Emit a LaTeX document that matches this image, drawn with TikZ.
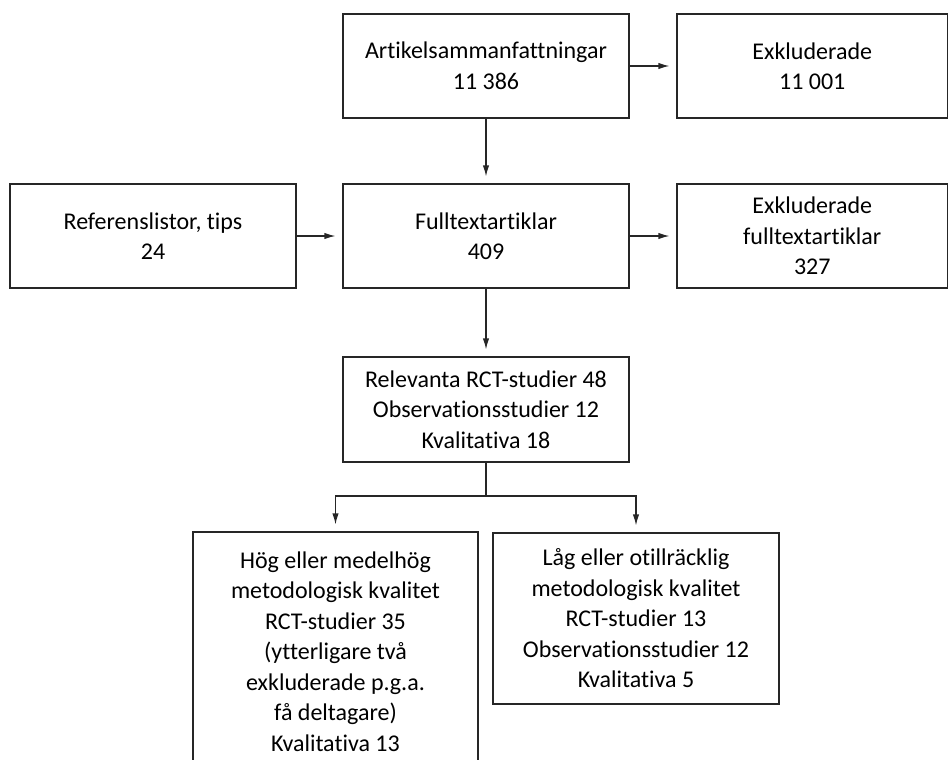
\documentclass[tikz,border=0pt]{standalone}
\usepackage{fontspec}
\setmainfont{Carlito}[Ligatures={NoCommon}]
\usetikzlibrary{arrows.meta}
\tikzset{
  box/.style={draw=black!85, line width=0.6pt, align=center, inner sep=0pt,
    minimum width=143pt, minimum height=52pt,
    font=\fontsize{12}{15.25}\selectfont},
  arr/.style={draw=black!85, line width=0.6pt,
    -{Latex[length=5.5pt,width=3.2pt]}, shorten >=3.5pt},
}
\begin{document}
\begin{tikzpicture}[x=0.5pt, y=-0.5pt]
  \useasboundingbox (0,0) rectangle (949,760);

  % first row
  \node[box] (sam) at (486,66) {Artikelsammanfattningar\\11 386};
  \node[box, minimum width=135.25pt] (exk) at (812.25,66) {Exkluderade\\11 001};

  % second row
  \node[box] (ref) at (153,236) {Referenslistor, tips\\24};
  \node[box] (full) at (486,236) {Fulltextartiklar\\409};
  \node[box, minimum width=135.25pt] (exkfull) at (812.25,236) {Exkluderade\\fulltextartiklar\\327};

  % relevant studies
  \node[box, minimum height=52.5pt] (rel) at (486,409.5)
    {Relevanta RCT-studier 48\\Observationsstudier 12\\Kvalitativa 18};

  % quality split
  \node[box, minimum width=142.5pt, minimum height=119.5pt] (hog) at (335.5,651.5)
    {Hög eller medelhög\\metodologisk kvalitet\\RCT-studier 35\\(ytterligare två\\exkluderade p.g.a.\\få deltagare)\\Kvalitativa 13};
  \node[box, minimum height=85.5pt] (lag) at (636,618.5)
    {Låg eller otillräcklig\\metodologisk kvalitet\\RCT-studier 13\\Observationsstudier 12\\Kvalitativa 5};

  % arrows
  \draw[arr] (sam) -- (exk);
  \draw[arr] (sam) -- (full);
  \draw[arr] (ref) -- (full);
  \draw[arr] (full) -- (exkfull);
  \draw[arr] (full) -- (rel);
  \coordinate (split) at (486,496);
  \draw[draw=black!85, line width=0.6pt] (rel.south) -- (split);
  \draw[arr] (split) -| (hog.north);
  \draw[arr] (split) -| (lag.north);
\end{tikzpicture}
\end{document}
